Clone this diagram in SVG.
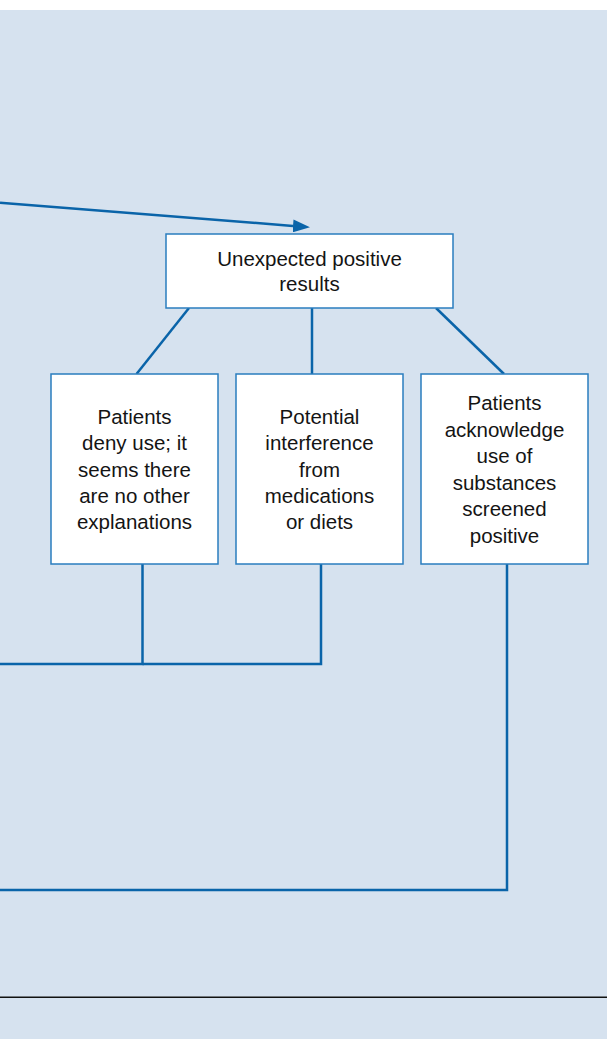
<svg xmlns="http://www.w3.org/2000/svg" width="607" height="1039" viewBox="0 0 607 1039">
<defs>
<style>
.node rect{fill:#ffffff;stroke:#2a7dbf;stroke-width:1.5}
.node text{font-family:"Liberation Sans",Arial,sans-serif;font-size:20.5px;fill:#141414;text-anchor:middle}
.conn{fill:none;stroke:#0a64a9;stroke-width:2.5}
</style>
<marker id="arr" viewBox="0 0 17 13" refX="0" refY="6.5" markerWidth="17" markerHeight="13" markerUnits="userSpaceOnUse" orient="auto">
<polygon points="0,0 17,6.5 0,13" fill="#0a64a9"/>
</marker>
</defs>
<rect x="0" y="0" width="607" height="1039" fill="#ffffff"/>
<rect x="0" y="10" width="607" height="1029" fill="#d6e2ef"/>
<rect x="0" y="996.5" width="607" height="1.5" fill="#111111"/>
<g id="connectors">
<line class="conn" x1="0" y1="202.7" x2="293" y2="225.9" marker-end="url(#arr)"/>
<line class="conn" x1="189" y1="308" x2="136.5" y2="374"/>
<line class="conn" x1="312" y1="308" x2="312" y2="374"/>
<line class="conn" x1="436" y1="308" x2="504" y2="374"/>
<polyline class="conn" points="142.5,564 142.5,664 0,664"/>
<polyline class="conn" points="321,564 321,664 142.5,664"/>
<polyline class="conn" points="507,564 507,890 0,890"/>
</g>
<g id="unexpected" class="node">
<rect x="166" y="234" width="287" height="74"/>
<text x="309.5" y="265.7">Unexpected positive</text>
<text x="309.5" y="290.7">results</text>
</g>
<g id="deny" class="node">
<rect x="51" y="374" width="167" height="190"/>
<text x="134.5" y="424">Patients</text>
<text x="134.5" y="450.3">deny use; it</text>
<text x="134.5" y="476.6">seems there</text>
<text x="134.5" y="502.9">are no other</text>
<text x="134.5" y="529.2">explanations</text>
</g>
<g id="interference" class="node">
<rect x="236" y="374" width="167" height="190"/>
<text x="319.5" y="424">Potential</text>
<text x="319.5" y="450.3">interference</text>
<text x="319.5" y="476.6">from</text>
<text x="319.5" y="502.9">medications</text>
<text x="319.5" y="529.2">or diets</text>
</g>
<g id="acknowledge" class="node">
<rect x="421" y="374" width="167" height="190"/>
<text x="504.5" y="410">Patients</text>
<text x="504.5" y="436.6">acknowledge</text>
<text x="504.5" y="463.2">use of</text>
<text x="504.5" y="489.8">substances</text>
<text x="504.5" y="516.4">screened</text>
<text x="504.5" y="543">positive</text>
</g>
</svg>
